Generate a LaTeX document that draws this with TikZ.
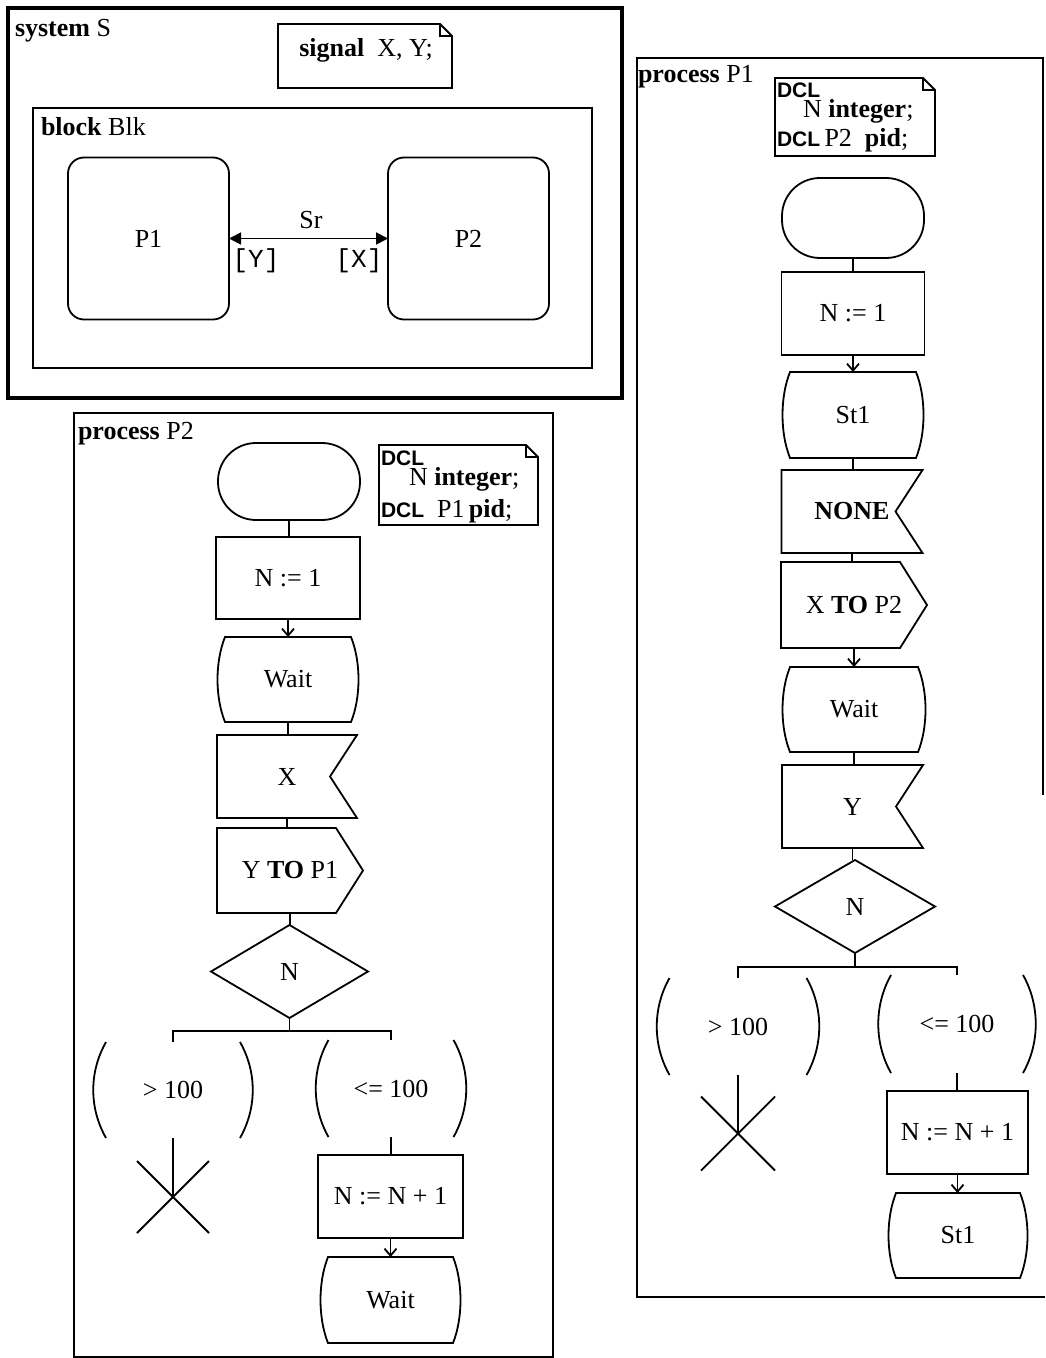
\documentclass[tikz,border=0pt]{standalone}
\usepackage{fontspec}
\setmainfont{Liberation Serif}
\setmonofont{Liberation Mono}
\newfontfamily\dclfont{Liberation Sans}
\usetikzlibrary{calc,arrows.meta}
\newcommand\dcl{\dclfont\bfseries\fontsize{10.5}{11}\selectfont}
\newcommand\stateshape[1]{%
  \draw[shp] (#1.north west) -- (#1.north east)
    .. controls +(10,25) and +(10,-25) .. (#1.south east)
    -- (#1.south west)
    .. controls +(-10,-25) and +(-10,25) .. (#1.north west) -- cycle;}
\newcommand\inshape[1]{%
  \draw[shp] (#1.north west) -- (#1.north east) -- ($(#1.east)+(-27,0)$)
    -- (#1.south east) -- (#1.south west) -- cycle;}
\newcommand\outshape[1]{%
  \draw[shp] (#1.north west) -- ($(#1.north east)+(-27,0)$) -- (#1.east)
    -- ($(#1.south east)+(-27,0)$) -- (#1.south west) -- cycle;}
\newcommand\decshape[1]{%
  \draw[shp] (#1.north) -- (#1.east) -- (#1.south) -- (#1.west) -- cycle;}
\newcommand\anshape[1]{%
  \draw[shp] ($(#1.north west)+(13,0)$) .. controls +(-17,30) and +(-17,-30) .. ($(#1.south west)+(13,0)$);
  \draw[shp] ($(#1.north east)+(-13,0)$) .. controls +(17,30) and +(17,-30) .. ($(#1.south east)+(-13,0)$);}
\newcommand\noteshape[1]{%
  \draw[shp] (#1.north west) -- ($(#1.north east)+(-12,0)$) -- ($(#1.north east)+(0,12)$)
    -- (#1.south east) -- (#1.south west) -- cycle;
  \draw[shp] ($(#1.north east)+(-12,0)$) -- ($(#1.north east)+(-12,12)$) -- ($(#1.north east)+(0,12)$);}
\newcommand\stopshape[2]{%
  \draw[shp] ($(#1)+(-#2,-#2)$) -- ($(#1)+(#2,#2)$) ($(#1)+(#2,-#2)$) -- ($(#1)+(-#2,#2)$);}
\begin{document}
\begin{tikzpicture}[x=0.5pt,y=-0.5pt,
  every node/.style={font=\fontsize{13}{15}\selectfont, inner sep=0pt, outer sep=0pt},
  shp/.style={draw=black, line width=0.9pt},
  conn/.style={line width=0.9pt},
  flow/.style={conn, -{Straight Barb[length=3.5pt,width=6pt]}},
  fb/.style 2 args={minimum width=#1, minimum height=#2},
  startbox/.style={shp, rounded corners=19pt},
  taskbox/.style={shp},
  chan/.style={conn, {Triangle[length=6pt,width=6pt]}-{Triangle[length=6pt,width=6pt]}}
]
\useasboundingbox (0,0) rectangle (1045,1358);

% ---------------- system S ----------------
\draw[line width=2.2pt] (8,8) rectangle (622,398);
\node[anchor=west] (syslbl) at (15,31) {\textbf{system} S};
\node[fb={87pt}{32pt}] (signote) at (365,56) {};
\noteshape{signote}
\node (sigtxt) at (366,50) {\textbf{signal}\ \ X, Y;};
\draw[shp] (33,108) rectangle (592,368);
\node[anchor=west] (blklbl) at (41,127) {\textbf{block} Blk};
\node[shp, rounded corners=8pt, fb={80.5pt}{81pt}] (bp1) at (148.5,238.5) {P1};
\node[shp, rounded corners=8pt, fb={80.5pt}{81pt}] (bp2) at (468.5,238.5) {P2};
\draw[chan] (bp1.east) -- (bp2.west);
\node (sr) at (311,220) {Sr};
\node (sy) at (256,261) {\ttfamily [Y]};
\node (sx) at (359,261) {\ttfamily [X]};

% ---------------- process P1 ----------------
\draw[shp] (1043,795) -- (1043,58) -- (637,58) -- (637,1297) -- (1045,1297);
\node[anchor=west] (p1lbl) at (638,77) {\textbf{process} P1};
\node[fb={80pt}{39pt}] (p1note) at (855,117) {};
\noteshape{p1note}
\node[anchor=west] (p1n1) at (777,90) {\dcl DCL};
\node[anchor=west] (p1n2) at (803,111) {N \textbf{integer};};
\node[anchor=west] (p1n3) at (777,140) {{\dcl DCL}\,P2\ \ \textbf{pid};};

\node[startbox, fb={71pt}{40pt}] (p1start) at (853,218) {};
\node[taskbox, fb={71.5pt}{41.5pt}] (p1init) at (853,313.5) {N := 1};
\node[fb={63pt}{43pt}] (p1st1) at (853,415) {St1};
\stateshape{p1st1}
\node[fb={70.5pt}{41.5pt}] (p1none) at (852,511.5) {\textbf{NONE}\hspace{10pt}};
\inshape{p1none}
\node[fb={73pt}{43pt}] (p1xto) at (854,605) {X \textbf{TO} P2};
\outshape{p1xto}
\node[fb={64pt}{42.5pt}] (p1wait) at (854,709.5) {Wait};
\stateshape{p1wait}
\node[fb={70.5pt}{41.5pt}] (p1y) at (852.5,806.5) {Y};
\inshape{p1y}
\node[fb={80pt}{46.5pt}] (p1dec) at (855,906.5) {N};
\decshape{p1dec}
\coordinate (p1br) at (855,967);
\node[fb={81.5pt}{48.5pt}] (p1a1) at (738,1026.5) {> 100};
\anshape{p1a1}
\node[fb={79pt}{49pt}] (p1a2) at (957,1024) {<= 100};
\anshape{p1a2}
\coordinate (p1stop) at (738,1133.5);
\stopshape{p1stop}{37}
\node[taskbox, fb={70.5pt}{41.5pt}] (p1inc) at (957.5,1132.5) {N := N + 1};
\node[fb={62pt}{42.5pt}] (p1st1b) at (958,1235.5) {St1};
\stateshape{p1st1b}

\draw[conn] (p1start.south) -- (p1start.south |- p1init.north);
\draw[flow] (p1init.south) -- (p1init.south |- p1st1.north);
\draw[conn] (p1st1.south) -- (p1st1.south |- p1none.north);
\draw[conn] (p1none.south) -- (p1none.south |- p1xto.north);
\draw[flow] (p1xto.south) -- (p1xto.south |- p1wait.north);
\draw[conn] (p1wait.south) -- (p1wait.south |- p1y.north);
\draw[conn] (p1y.south) -- (p1y.south |- p1dec.north);
\draw[conn] (p1dec.south) -- (p1br);
\draw[conn] (p1a1.north) |- (p1br) -| (p1a2.north);
\draw[conn] (p1a1.south) -- (p1stop);
\draw[conn] (p1a2.south) -- (p1a2.south |- p1inc.north);
\draw[flow] (p1inc.south) -- (p1inc.south |- p1st1b.north);

% ---------------- process P2 ----------------
\draw[shp] (74,413) rectangle (553,1357);
\node[anchor=west] (p2lbl) at (78,434) {\textbf{process} P2};
\node[fb={79.5pt}{40pt}] (p2note) at (458.5,485) {};
\noteshape{p2note}
\node[anchor=west] (p2n1) at (381,458) {\dcl DCL};
\node[anchor=west] (p2n2) at (409,479) {N \textbf{integer};};
\node[anchor=west] (p2n3) at (381,511) {{\dcl DCL}\ \ P1\,\textbf{pid};};

\node[startbox, fb={71pt}{38.5pt}] (p2start) at (289,481.5) {};
\node[taskbox, fb={72pt}{41pt}] (p2init) at (288,578) {N := 1};
\node[fb={63pt}{42.5pt}] (p2wait) at (288,679.5) {Wait};
\stateshape{p2wait}
\node[fb={70pt}{41.5pt}] (p2x) at (287,776.5) {X};
\inshape{p2x}
\node[fb={73pt}{42.5pt}] (p2yto) at (290,870.5) {Y \textbf{TO} P1};
\outshape{p2yto}
\node[fb={78.5pt}{46.5pt}] (p2dec) at (289.5,971.5) {N};
\decshape{p2dec}
\coordinate (p2br) at (289.5,1031);
\node[fb={80pt}{48pt}] (p2a1) at (173,1090) {> 100};
\anshape{p2a1}
\node[fb={75.5pt}{48.5pt}] (p2a2) at (391,1088.5) {<= 100};
\anshape{p2a2}
\coordinate (p2stop) at (173,1197);
\stopshape{p2stop}{36}
\node[taskbox, fb={72.5pt}{41.5pt}] (p2inc) at (390.5,1196.5) {N := N + 1};
\node[fb={62.5pt}{43pt}] (p2wait2) at (390.5,1300) {Wait};
\stateshape{p2wait2}

\draw[conn] (p2start.south) -- (p2start.south |- p2init.north);
\draw[flow] (p2init.south) -- (p2init.south |- p2wait.north);
\draw[conn] (p2wait.south) -- (p2wait.south |- p2x.north);
\draw[conn] (p2x.south) -- (p2x.south |- p2yto.north);
\draw[conn] (p2yto.south) -- (p2yto.south |- p2dec.north);
\draw[conn] (p2dec.south) -- (p2br);
\draw[conn] (p2a1.north) |- (p2br) -| (p2a2.north);
\draw[conn] (p2a1.south) -- (p2stop);
\draw[conn] (p2a2.south) -- (p2a2.south |- p2inc.north);
\draw[flow] (p2inc.south) -- (p2inc.south |- p2wait2.north);
\end{tikzpicture}
\end{document}
